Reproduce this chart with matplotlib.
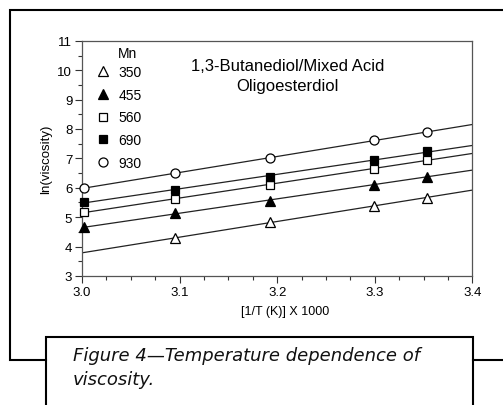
import matplotlib.pyplot as plt
import numpy as np
from matplotlib.lines import Line2D
from matplotlib.ticker import MultipleLocator

plt.rcParams['font.family'] = ['Liberation Sans', 'DejaVu Sans']

# 1000/T for 60, 50, 40, 30, 25 C
inv_t = [3.002, 3.095, 3.193, 3.299, 3.354]

mn_350 = [None, 4.28, 4.83, 5.39, 5.66]
mn_455 = [4.65, 5.13, 5.56, 6.11, 6.38]
mn_560 = [5.17, 5.62, 6.10, 6.64, 6.96]
mn_690 = [5.51, 5.93, 6.38, 6.94, 7.24]
mn_930 = [5.98, 6.51, 7.01, 7.61, 7.90]

labels = ['350', '455', '560', '690', '930']
series = [mn_350, mn_455, mn_560, mn_690, mn_930]
markers = [('^', 'white', 7.5), ('^', 'black', 7.5), ('s', 'white', 6), ('s', 'black', 6), ('o', 'white', 6.5)]

fig = plt.figure(figsize=(5.03, 4.06), dpi=100)
ax = fig.add_axes([0.163, 0.318, 0.776, 0.579])

xfit = np.array([3.0, 3.4])
for vals, lab, (m, fc, ms) in zip(series, labels, markers):
    x = np.array([a for a, b in zip(inv_t, vals) if b is not None])
    y = np.array([b for b in vals if b is not None])
    k, c = np.polyfit(x, y, 1)
    ax.plot(xfit, k * xfit + c, color='#222222', lw=0.9, zorder=2)
    ax.plot(x, y, ls='none', marker=m, ms=ms, mfc=fc, mec='black', mew=0.9,
            label=lab, zorder=3, clip_on=False)

ax.set_xlim(3.0, 3.4)
ax.set_ylim(3, 11)
ax.xaxis.set_major_locator(MultipleLocator(0.1))
ax.xaxis.set_minor_locator(MultipleLocator(0.025))
ax.yaxis.set_major_locator(MultipleLocator(1))
ax.yaxis.set_minor_locator(MultipleLocator(0.5))
ax.set_xticks([3.0, 3.1, 3.2, 3.3, 3.4], ['3.0', '3.1', '3.2', '3.3', '3.4'])
ax.tick_params(which='major', direction='out', length=5, width=0.8, labelsize=9.5, colors='#333333', pad=2)
ax.tick_params(which='minor', direction='out', length=3, width=0.8, colors='#333333')
ax.tick_params(labelcolor='black')
for s in ax.spines.values():
    s.set_color('#555555')
    s.set_linewidth(0.9)

ax.set_xlabel('[1/T (K)] X 1000', fontsize=9)
ax.xaxis.set_label_coords(0.52, -0.125)
ax.set_ylabel('ln(viscosity)', fontsize=9.5, labelpad=4)

ax.text(0.526, 0.928, '1,3-Butanediol/Mixed Acid\nOligoesterdiol', transform=ax.transAxes,
        ha='center', va='top', fontsize=12, linespacing=1.45)

ax.legend(loc='upper left', bbox_to_anchor=(0.022, 0.92), frameon=False,
          fontsize=10, handlelength=1.0, handletextpad=0.6,
          labelspacing=0.62, borderaxespad=0.0)
ax.text(0.116, 0.948, 'Mn', transform=ax.transAxes, ha='center', va='center', fontsize=10)

# outer frame and caption box
lw = 1.5
def fline(xs, ys):
    fig.add_artist(Line2D([v / 503 for v in xs], [1 - v / 406 for v in ys],
                          color='black', lw=lw, solid_joinstyle='miter'))

fline([503, 10, 10, 46], [11, 11, 361, 361])
fline([46, 46, 473, 473], [410, 338, 338, 410])
fline([473, 503], [361, 361])

fig.text(73 / 503, 1 - 347 / 406, 'Figure 4\u2014Temperature dependence of\nviscosity.',
         fontsize=13, style='italic', family=['DejaVu Sans'], va='top', ha='left',
         linespacing=1.4, color='#111111')

fig.savefig('out.png', dpi=100)
